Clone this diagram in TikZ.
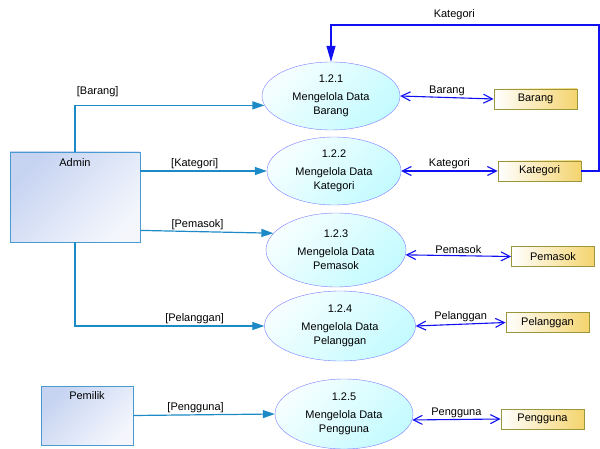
\documentclass[tikz,border=0pt]{standalone}
\usepackage{fontspec}
\setmainfont{Liberation Sans}
\usetikzlibrary{shapes.geometric,arrows.meta,positioning,calc}
\definecolor{procfill}{HTML}{C4FBFF}
\definecolor{procline}{HTML}{7C7CFF}
\definecolor{extfill}{HTML}{C6D3F1}
\definecolor{extline}{HTML}{4A9AD2}
\definecolor{storefill}{HTML}{F4D46E}
\definecolor{storeline}{HTML}{9A963C}
\definecolor{extflowc}{HTML}{1C8AC6}
\definecolor{storeflowc}{HTML}{1010F0}

\begin{document}
\begin{tikzpicture}[
  x=1pt,y=-1pt,
  font=\fontsize{11}{14}\selectfont,
  proc/.style={ellipse,draw=procline,top color=procfill!15,bottom color=procfill,shading angle=45,inner sep=0pt,align=center},
  ext/.style={rectangle,draw=extline,thick,top color=extfill,bottom color=extfill!20,shading angle=45},
  store/.style={rectangle,draw=storeline,thick,left color=white,right color=storefill,minimum width=83pt,minimum height=20pt,inner sep=0pt},
  extflow/.style={-{Triangle[length=12pt,width=8pt]},extflowc,line width=1.2pt},
  storeflow/.style={{Straight Barb[length=9pt,width=9pt]}-{Straight Barb[length=9pt,width=9pt]},storeflowc,line width=1.1pt},
  loopflow/.style={-{Triangle[length=16pt,width=9pt]},storeflowc,line width=1.1pt},
  lbl/.style={inner sep=1.5pt,text=black}
]
  \useasboundingbox (0,0) rectangle (600,449);

  \node[ext,minimum width=130pt,minimum height=90pt,label={[anchor=north,yshift=-3pt]north:Admin}] (admin) at (75,197) {};
  \node[ext,minimum width=92pt,minimum height=59pt,label={[anchor=north,yshift=-2pt]north:Pemilik}] (pemilik) at (87,415.5) {};

  \node[proc,minimum width=138pt,minimum height=68pt] (p1) at (331,96) {1.2.1\\[4pt]Mengelola Data\\Barang};
  \node[proc,minimum width=134pt,minimum height=68pt] (p2) at (334,171) {1.2.2\\[4pt]Mengelola Data\\Kategori};
  \node[proc,minimum width=140pt,minimum height=74pt] (p3) at (336,250) {1.2.3\\[4pt]Mengelola Data\\Pemasok};
  \node[proc,minimum width=151pt,minimum height=70pt] (p4) at (340,326) {1.2.4\\[4pt]Mengelola Data\\Pelanggan};
  \node[proc,minimum width=138pt,minimum height=70pt] (p5) at (344,414) {1.2.5\\[4pt]Mengelola Data\\Pengguna};

  \node[store] (s1) at (535.5,99) {Barang};
  \node[store] (s2) at (539.5,171) {Kategori};
  \node[store] (s3) at (553,256.5) {Pemasok};
  \node[store] (s4) at (547.5,322.5) {Pelanggan};
  \node[store] (s5) at (542.5,419) {Pengguna};

  \draw[extflow] (admin.north) |- node[lbl,pos=0.56,above=6pt]{[Barang]} (p1.188);
  \draw[extflow] (admin.east |- p2.west) -- node[lbl,pos=0.43,above]{[Kategori]} (p2.west);
  \draw[extflow] ($(admin.south east)+(0,-12)$) -- node[lbl,pos=0.43,above]{[Pemasok]} (p3.165);
  \draw[extflow] (admin.south) |- node[lbl,pos=0.816,above]{[Pelanggan]} (p4.west);
  \draw[extflow] (pemilik.east) -- node[lbl,pos=0.44,above]{[Pengguna]} (p5.west);

  \draw[storeflow] (p1.east) -- node[lbl,above]{Barang} (s1.west);
  \draw[storeflow] (p2.east) -- node[lbl,above]{Kategori} (s2.west);
  \draw[storeflow] (p3.-4) -- node[lbl,above]{Pemasok} (s3.west);
  \draw[storeflow] (p4.east) -- node[lbl,above]{Pelanggan} (s4.west);
  \draw[storeflow] (p5.-5) -- node[lbl,above]{Pengguna} (s5.west);

  \coordinate (ktop) at (599,25);
  \draw[loopflow] (s2.east) -| (ktop) -| node[lbl,pos=0.27,above=3pt]{Kategori} (p1.north);
\end{tikzpicture}
\end{document}
